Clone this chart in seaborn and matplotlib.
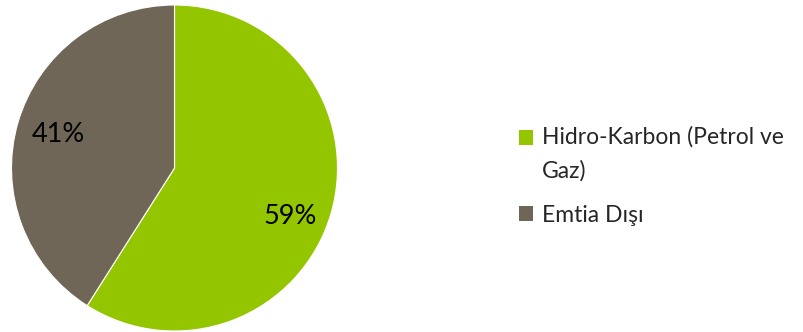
import matplotlib
matplotlib.use("Agg")
import matplotlib.pyplot as plt
import seaborn as sns
from matplotlib.patches import Patch, Rectangle
from matplotlib.legend_handler import HandlerPatch

categories = ["Hidro-Karbon (Petrol ve\nGaz)", "Emtia Dışı"]
values = [59, 41]
colors = ["#94C600", "#6F6657"]

sns.set_theme(style="white")
plt.rcParams['font.family'] = ['Lato', 'DejaVu Sans']

fig = plt.figure(figsize=(8.04, 3.32), dpi=100)
cx, cy, r = 174.5, 332 - 168, 163
ax = fig.add_axes([(cx - r) / 804, (cy - r) / 332, 2 * r / 804, 2 * r / 332])
wedges, texts, autotexts = ax.pie(
    values, colors=colors, startangle=90, counterclock=False,
    autopct=lambda p: f"{p:.0f}%", pctdistance=0.74, radius=1,
    wedgeprops=dict(edgecolor="white", linewidth=0.8),
    textprops=dict(fontsize=19.5, color="black"))
x, y = autotexts[0].get_position()
autotexts[0].set_position((x, y - 0.09))
ax.set_xlim(-1.0, 1.0)
ax.set_ylim(-1.0, 1.0)
ax.set_aspect("equal")
ax.axis("off")


def shifted(shift):
    def f(legend, orig_handle, xdescent, ydescent, width, height, fontsize):
        return Rectangle((-xdescent, -ydescent + shift), width, height)
    return HandlerPatch(patch_func=f)


handles = [Patch(facecolor=c, edgecolor="none") for c in colors]
leg = fig.legend(handles, categories, loc="center left",
           bbox_to_anchor=(519 / 804, 0.47), frameon=False,
           fontsize=16.5, handlelength=0.6, handleheight=0.6,
           handletextpad=0.4, labelspacing=1.0, borderpad=0, borderaxespad=0,
           handler_map={handles[0]: shifted(12.2)})
for t in leg.get_texts():
    t.set_linespacing(1.7)

fig.savefig("out.png", dpi=100)
